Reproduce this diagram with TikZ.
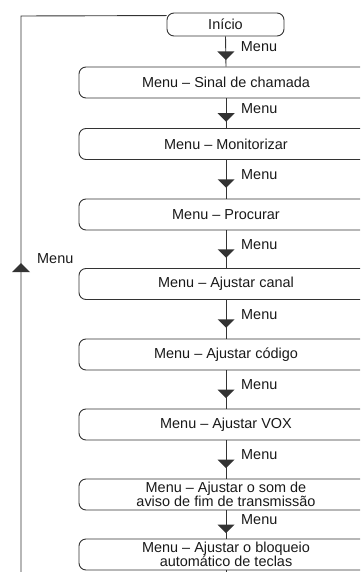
\documentclass[tikz,border=0pt]{standalone}
\usepackage{fontspec}
\setmainfont{Liberation Sans}
\usetikzlibrary{calc}
\definecolor{ln}{HTML}{333333}
\begin{document}
\begin{tikzpicture}[x=1bp,y=-1bp,
  box/.style={draw=ln, line width=0.9bp, rounded corners=7bp, minimum width=294bp, minimum height=31bp,
    inner sep=0pt, align=center, font=\fontsize{14.5}{14}\selectfont, text=black!90},
  lbl/.style={anchor=west, inner sep=0pt, font=\fontsize{14.5}{14}\selectfont, text=black!90},
  conn/.style={draw=ln, line width=0.9bp}]
\useasboundingbox (0,0) rectangle (360,572);
\clip (0,0) rectangle (360,572);
\node[box, minimum width=117bp, minimum height=23bp] (s) at (225.5,24.5) {Início};
\node[box] (b1) at (226,82.5) {Menu – Sinal de chamada};
\node[box] (b2) at (226,144) {Menu – Monitorizar};
\node[box] (b3) at (226,214.5) {Menu – Procurar};
\node[box] (b4) at (226,284) {Menu – Ajustar canal};
\node[box] (b5) at (226,354.5) {Menu – Ajustar código};
\node[box] (b6) at (226,424.5) {Menu – Ajustar VOX};
\node[box] (b7) at (226,494.5) {Menu – Ajustar o som de\\aviso de fim de transmissão};
\node[box] (b8) at (226,554.5) {Menu – Ajustar o bloqueio\\automático de teclas};
\coordinate (bend) at (226,590);
\coordinate (lb) at (21,590);
\coordinate (lt) at (21,16);
\foreach \a/\b in {s/b1,b1/b2,b2/b3,b3/b4,b4/b5,b5/b6,b6/b7,b7/b8}{
  \draw[conn] (\a.south) -- (\b.north);
  \coordinate (m) at ($(\a.south)!0.5!(\b.north)$);
  \fill[ln] ($(m)+(-8.5,0)$) -- ($(m)+(8.5,0)$) -- ($(m)+(0,8.5)$) -- cycle;
  \node[lbl] at ($(m)+(15,-4.5)$) {Menu};
}
\draw[conn] (b8.south) -- (bend);
\draw[conn] (lb) -- (lt) -- ($(s.north west)+(0,3)$);
\fill[ln] (12,272) -- (30,272) -- (21,263) -- cycle;
\node[lbl] at (37,259) {Menu};
\end{tikzpicture}
\end{document}
